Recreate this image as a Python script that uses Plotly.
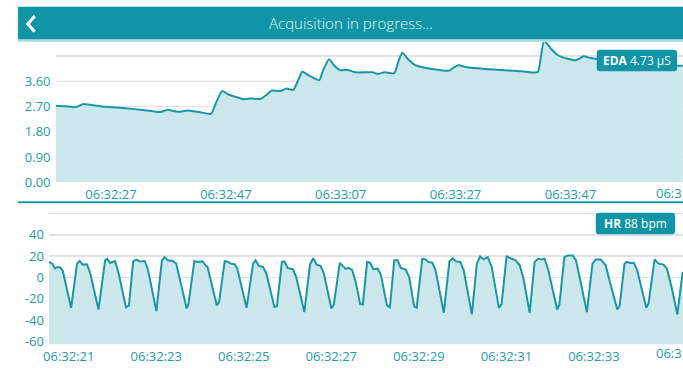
import pandas as pd
import plotly.graph_objects as go

# ---- data -------------------------------------------------------------
SESSION_START = "2021-01-01 06:32:00"

# electrodermal activity (µS), seconds after 06:32:00
EDA_SEC = [17.34, 19.06, 20.79, 22.17, 23.38, 25.96, 29.42, 32.87, 35.46, 36.84,
           38.04, 38.91, 40.29, 42.36, 44.43, 45.29, 46.33, 47.54, 48.74, 50.12,
           51.33, 53.06, 54.09, 54.95, 56.51, 57.54, 58.75, 59.61, 60.30, 61.34,
           63.24, 63.93, 64.96, 66.00, 66.86, 68.24, 69.62, 72.56, 73.42, 74.63,
           76.35, 77.04, 77.73, 78.77, 79.98, 82.91, 85.84, 86.71, 87.57, 88.95,
           92.06, 94.99, 98.44, 100.68, 101.37, 102.41, 103.62, 104.83, 106.38, 107.93,
           109.31, 110.52, 113.97, 117.42, 120.87, 123.98, 126.57]
EDA_VAL = [2.73, 2.71, 2.67, 2.79, 2.76, 2.69, 2.64, 2.57, 2.50, 2.58,
           2.53, 2.51, 2.56, 2.50, 2.44, 2.84, 3.25, 3.12, 3.04, 2.96,
           2.99, 2.97, 3.12, 3.27, 3.25, 3.34, 3.29, 3.65, 3.95, 3.82,
           3.64, 3.99, 4.39, 4.13, 4.00, 4.00, 3.92, 3.92, 3.86, 3.92,
           3.89, 4.31, 4.62, 4.38, 4.18, 4.04, 3.98, 4.10, 4.17, 4.10,
           4.04, 4.00, 3.96, 3.91, 3.94, 5.05, 4.76, 4.53, 4.41, 4.35,
           4.49, 4.43, 4.34, 4.27, 4.20, 4.16, 4.15]

# heart-rate sensor raw signal, seconds after 06:32:00
HR_SEC = [20.547, 20.624, 20.683, 20.737, 20.812, 20.864, 21.054, 21.190, 21.249, 21.317,
          21.417, 21.492, 21.680, 21.831, 21.877, 21.945, 22.058, 22.133, 22.307, 22.375,
          22.472, 22.549, 22.624, 22.737, 22.812, 23.002, 23.129, 23.190, 23.265, 23.378,
          23.455, 23.695, 23.734, 23.870, 23.945, 24.058, 24.135, 24.171, 24.384, 24.436,
          24.565, 24.640, 24.701, 24.792, 24.851, 25.063, 25.213, 25.267, 25.342, 25.439,
          25.516, 25.698, 25.757, 25.870, 25.931, 25.999, 26.119, 26.196, 26.384, 26.513,
          26.588, 26.663, 26.753, 26.830, 27.002, 27.057, 27.193, 27.328, 27.396, 27.478,
          27.555, 27.659, 27.720, 27.818, 27.886, 27.963, 28.060, 28.135, 28.271, 28.339,
          28.438, 28.513, 28.588, 28.701, 28.778, 28.891, 28.950, 29.079, 29.154, 29.215,
          29.306, 29.381, 29.571, 29.698, 29.775, 29.849, 29.947, 30.024, 30.212, 30.325,
          30.400, 30.477, 30.574, 30.665, 30.830, 30.891, 31.004, 31.102, 31.208, 31.306,
          31.389, 31.532, 31.646, 31.722, 31.813, 31.872, 31.949, 32.160, 32.212, 32.325,
          32.402, 32.515, 32.590, 32.665, 32.839, 32.968, 33.043, 33.156, 33.269, 33.344,
          33.534, 33.587, 33.700, 33.745, 33.836, 33.911, 33.988, 34.198, 34.250, 34.386,
          34.477, 34.590, 34.667, 34.780, 34.907, 35.029]
HR_VAL = [14.5, 12.9, 8.3, 9.8, 9.2, 6.0, -28.6, 12.9, 15.4, 12.0,
          12.3, 3.7, -30.2, 16.0, 17.5, 13.5, 15.4, 5.0, -28.0, -26.5,
          15.0, 16.6, 15.0, 15.4, 7.0, -31.7, 16.0, 19.0, 16.0, 15.4,
          13.0, -29.2, -25.5, 15.4, 14.5, 15.0, 11.0, 9.8, -26.5, -23.0,
          15.4, 14.5, 12.9, 12.3, 8.3, -28.6, 12.9, 16.0, 10.8, 9.8,
          3.7, -27.7, -27.0, 14.5, 15.0, 8.9, 7.7, 0.6, -32.6, 12.0,
          18.0, 12.0, 10.8, 3.7, -29.2, -25.5, 13.5, 8.0, 8.9, 6.8,
          -4.0, -24.9, -25.5, 14.5, 13.8, 7.7, 8.3, 2.0, -26.2, -28.0,
          16.0, 16.0, 8.9, 7.4, 0.6, -27.0, -28.6, 17.5, 16.9, 14.5,
          13.8, 6.8, -33.2, 15.0, 18.0, 15.0, 14.5, 6.8, -34.8, 12.9,
          19.7, 16.9, 19.0, 9.8, -28.6, -24.9, 19.7, 18.2, 16.0, 11.4,
          -0.9, -33.2, 14.5, 17.5, 16.9, 17.5, 8.3, -30.2, -25.5, 19.0,
          20.6, 20.6, 16.0, 2.0, -32.6, 12.9, 16.9, 16.9, 11.4, -0.9,
          -30.2, -27.0, 12.9, 14.5, 13.5, 13.8, 6.8, -28.6, -24.0, 16.9,
          12.9, 12.0, 8.3, -10.0, -34.8, 5.2]

EDA_TICKS = [0.0, 0.9, 1.8, 2.7, 3.6, 4.5]
EDA_TICK_TEXT = ["0.00", "0.90", "1.80", "2.70", "3.60", ""]
HR_TICKS = [-60, -40, -20, 0, 20, 40, 60]
HR_TICK_TEXT = ["-60", "-40", "-20", "0", "20", "40", ""]

EDA_READOUT = "<b>EDA</b> 4.73 µS"
HR_READOUT = "<b>HR</b> 88 bpm"
TITLE = "Acquisition in progress..."
# the next time label on each axis is cut by the right edge of the screen
EDA_CUT_LABEL = "06:3"
HR_CUT_LABEL = "06:3"

# ---- styling ----------------------------------------------------------
W, H = 683, 371
TEAL = "#0f95a5"
LINE = "#1a97a6"
FILL = "#cce8ec"
GRID = "#e2e2e2"
LABEL = "#1f9bab"
FONT = "Open Sans"

t0 = pd.Timestamp(SESSION_START)
eda_t = t0 + pd.to_timedelta(EDA_SEC, unit="s")
hr_t = t0 + pd.to_timedelta(HR_SEC, unit="s")

EDA_XRANGE = (t0 + pd.Timedelta(seconds=17.34), t0 + pd.Timedelta(seconds=126.6))
HR_XRANGE = (t0 + pd.Timedelta(seconds=20.547), t0 + pd.Timedelta(seconds=35.036))
EDA_YRANGE = [0, 5.0]
HR_YRANGE = [-63, 69]


def px(x):
    return x / W


def py(y):
    return 1 - y / H


fig = go.Figure()

fig.add_trace(go.Scatter(
    x=eda_t, y=EDA_VAL, mode="lines", fill="tozeroy", fillcolor=FILL,
    line=dict(color=LINE, width=2, shape="spline", smoothing=0.5),
    xaxis="x", yaxis="y", hoverinfo="skip", showlegend=False,
))

# floor of the lower panel so the area fills down to the axis bottom
fig.add_trace(go.Scatter(
    x=[HR_XRANGE[0], HR_XRANGE[1]], y=[HR_YRANGE[0]] * 2, mode="lines",
    line=dict(width=0, color=FILL), xaxis="x2", yaxis="y2",
    hoverinfo="skip", showlegend=False,
))
fig.add_trace(go.Scatter(
    x=hr_t, y=HR_VAL, mode="lines", fill="tonexty", fillcolor=FILL,
    line=dict(color=LINE, width=2),
    xaxis="x2", yaxis="y2", hoverinfo="skip", showlegend=False,
))

axis_font = dict(family=FONT, size=13, color=LABEL)

fig.update_layout(
    width=W, height=H,
    margin=dict(l=0, r=0, t=0, b=0),
    paper_bgcolor="white", plot_bgcolor="white",
    xaxis=dict(
        domain=[px(50), 1], anchor="y", type="date",
        range=list(EDA_XRANGE), tick0=t0 + pd.Timedelta(seconds=7), dtick=20000,
        tickformat="%H:%M:%S", showgrid=False, zeroline=False, showline=False,
        ticks="", tickfont=axis_font, ticklabeloverflow="hide past div",
        ticklabelstandoff=3,
    ),
    yaxis=dict(
        domain=[py(186.7), py(43.1)], anchor="x", range=EDA_YRANGE,
        tickvals=EDA_TICKS, ticktext=EDA_TICK_TEXT,
        showgrid=True, gridcolor=GRID, gridwidth=1.5, zeroline=False,
        showline=False, ticks="", tickfont=axis_font, ticklabelstandoff=4,
    ),
    xaxis2=dict(
        domain=[px(43.3), 1], anchor="y2", type="date",
        range=list(HR_XRANGE), tick0=t0 + pd.Timedelta(seconds=21), dtick=2000,
        tickformat="%H:%M:%S", showgrid=False, zeroline=False, showline=False,
        ticks="", tickfont=axis_font, ticklabeloverflow="hide past div",
        ticklabelstandoff=3,
    ),
    yaxis2=dict(
        domain=[py(353), py(209)], anchor="x2", range=HR_YRANGE,
        tickvals=HR_TICKS, ticktext=HR_TICK_TEXT,
        showgrid=True, gridcolor=GRID, gridwidth=1.5, zeroline=False,
        showline=False, ticks="", tickfont=axis_font, ticklabelstandoff=4,
    ),
)


def rounded_rect(x0, y0, x1, y1, r):
    rx, ry = r / W, r / H
    X0, X1 = px(x0), px(x1)
    Y0, Y1 = py(y1), py(y0)  # paper y grows upward
    return (f"M {X0 + rx} {Y0} L {X1 - rx} {Y0} Q {X1} {Y0} {X1} {Y0 + ry} "
            f"L {X1} {Y1 - ry} Q {X1} {Y1} {X1 - rx} {Y1} "
            f"L {X0 + rx} {Y1} Q {X0} {Y1} {X0} {Y1 - ry} "
            f"L {X0} {Y0 + ry} Q {X0} {Y0} {X0 + rx} {Y0} Z")


shapes = [
    # header bar
    dict(type="rect", xref="paper", yref="paper", x0=px(12), x1=1, y0=py(40.5), y1=py(7),
         fillcolor=TEAL, line=dict(width=0), layer="above"),
    dict(type="line", xref="paper", yref="paper", x0=px(12), x1=1, y0=py(41.8), y1=py(41.8),
         line=dict(color="#a8d8df", width=2), layer="above"),
    # back chevron
    dict(type="path", xref="paper", yref="paper",
         path=f"M {px(29)} {py(16.5)} L {px(22)} {py(24.5)} L {px(29)} {py(32.5)}",
         line=dict(color="white", width=3), layer="above"),
    # separator between the panels
    dict(type="line", xref="paper", yref="paper", x0=px(12), x1=1, y0=py(207.2), y1=py(207.2),
         line=dict(color=LINE, width=2), layer="above"),
    # readout badges
    dict(type="path", xref="paper", yref="paper", path=rounded_rect(596, 51, 677, 73, 3),
         fillcolor=TEAL, line=dict(width=0), layer="above"),
    dict(type="path", xref="paper", yref="paper", path=rounded_rect(595, 218, 675, 240, 3),
         fillcolor=TEAL, line=dict(width=0), layer="above"),
]
fig.update_layout(shapes=shapes)

annotations = [
    dict(text=TITLE, x=px(348), y=py(24), xref="paper", yref="paper", showarrow=False,
         xanchor="center", yanchor="middle",
         font=dict(family=FONT, size=15, color="#e6f6f8", weight=300)),
    dict(text=EDA_READOUT, x=px(636.5), y=py(62), xref="paper", yref="paper",
         showarrow=False, xanchor="center", yanchor="middle",
         font=dict(family=FONT, size=12, color="white")),
    dict(text=HR_READOUT, x=px(635), y=py(229), xref="paper", yref="paper",
         showarrow=False, xanchor="center", yanchor="middle",
         font=dict(family=FONT, size=12, color="white")),
    dict(text=EDA_CUT_LABEL, x=1, y=py(198), xref="paper", yref="paper",
         showarrow=False, xanchor="right", yanchor="middle", borderpad=0,
         font=axis_font),
    dict(text=HR_CUT_LABEL, x=1, y=py(362), xref="paper", yref="paper",
         showarrow=False, xanchor="right", yanchor="middle", borderpad=0,
         font=axis_font),
]
fig.update_layout(annotations=annotations)

# a static screen capture: no drag handles or hover layers are needed
fig.write_html("out.html", config={"staticPlot": True, "displayModeBar": False})
